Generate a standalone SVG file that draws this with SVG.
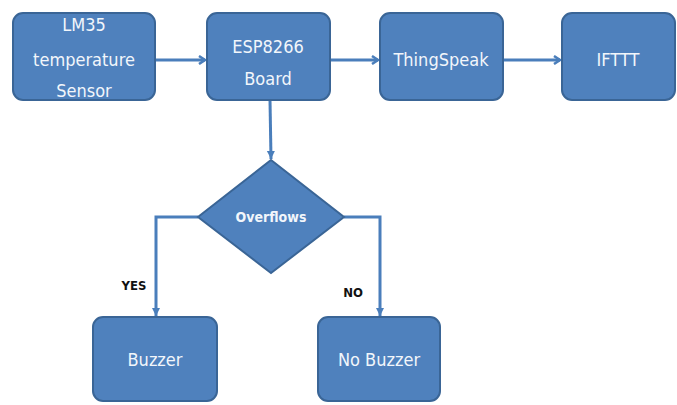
<svg xmlns="http://www.w3.org/2000/svg" width="677" height="405" viewBox="0 0 677 405">
<style>
.box{fill:#4F81BD;stroke:#3A6596;stroke-width:2}
.t{fill:#F2F6FB;font-family:"DejaVu Sans Condensed","Liberation Sans Narrow","Liberation Sans",sans-serif;font-stretch:condensed;font-size:18px;text-anchor:middle}
.c{fill:none;stroke:#4A7EBB;stroke-width:3}
.lbl{fill:#111;font-family:"DejaVu Sans Condensed","Liberation Sans Narrow","Liberation Sans",sans-serif;font-stretch:condensed;font-size:13px;font-weight:bold;text-anchor:middle}
</style>
<defs>
<marker id="ah" markerWidth="10" markerHeight="10" refX="8" refY="5" orient="auto" markerUnits="userSpaceOnUse">
<path d="M2,1 L8,5 L2,9" fill="none" stroke="#4A7EBB" stroke-width="2.5"/>
</marker>
<marker id="ad" markerWidth="10" markerHeight="10" refX="9" refY="5" orient="auto" markerUnits="userSpaceOnUse">
<path d="M1,1 L9,5 L1,9 Z" fill="#4A7EBB"/>
</marker>
</defs>
<rect width="677" height="405" fill="#fff"/>
<g id="connectors">
<line class="c" x1="155" y1="60" x2="205" y2="60" marker-end="url(#ah)"/>
<line class="c" x1="330" y1="60" x2="378" y2="60" marker-end="url(#ah)"/>
<line class="c" x1="503" y1="60" x2="560" y2="60" marker-end="url(#ah)"/>
<polyline class="c" points="270,100 271,159" marker-end="url(#ad)"/>
<polyline class="c" points="198,217 156,217 156,316" marker-end="url(#ad)"/>
<polyline class="c" points="344,217 380,217 380,316" marker-end="url(#ad)"/>
</g>
<g id="lm35">
<rect class="box" x="13" y="13" width="142" height="87" rx="10"/>
<text class="t" x="84" y="31">LM35</text>
<text class="t" x="84" y="66">temperature</text>
<text class="t" x="84" y="97">Sensor</text>
</g>
<g id="esp8266">
<rect class="box" x="207" y="13" width="123" height="87" rx="10"/>
<text class="t" x="268" y="53">ESP8266</text>
<text class="t" x="268" y="85">Board</text>
</g>
<g id="thingspeak">
<rect class="box" x="380" y="13" width="123" height="87" rx="10"/>
<text class="t" x="441" y="66">ThingSpeak</text>
</g>
<g id="ifttt">
<rect class="box" x="562" y="13" width="113" height="87" rx="10"/>
<text class="t" x="618" y="66">IFTTT</text>
</g>
<g id="overflows">
<polygon class="box" points="271,160 344,217 271,273 198,217"/>
<text class="t" x="271" y="222" style="font-size:14px;font-weight:bold">Overflows</text>
</g>
<g id="buzzer">
<rect class="box" x="93" y="317" width="124" height="84" rx="10"/>
<text class="t" x="155" y="366">Buzzer</text>
</g>
<g id="nobuzzer">
<rect class="box" x="318" y="317" width="122" height="84" rx="10"/>
<text class="t" x="379" y="366">No Buzzer</text>
</g>
<g id="labels">
<text class="lbl" x="134" y="290">YES</text>
<text class="lbl" x="353" y="297">NO</text>
</g>
</svg>
